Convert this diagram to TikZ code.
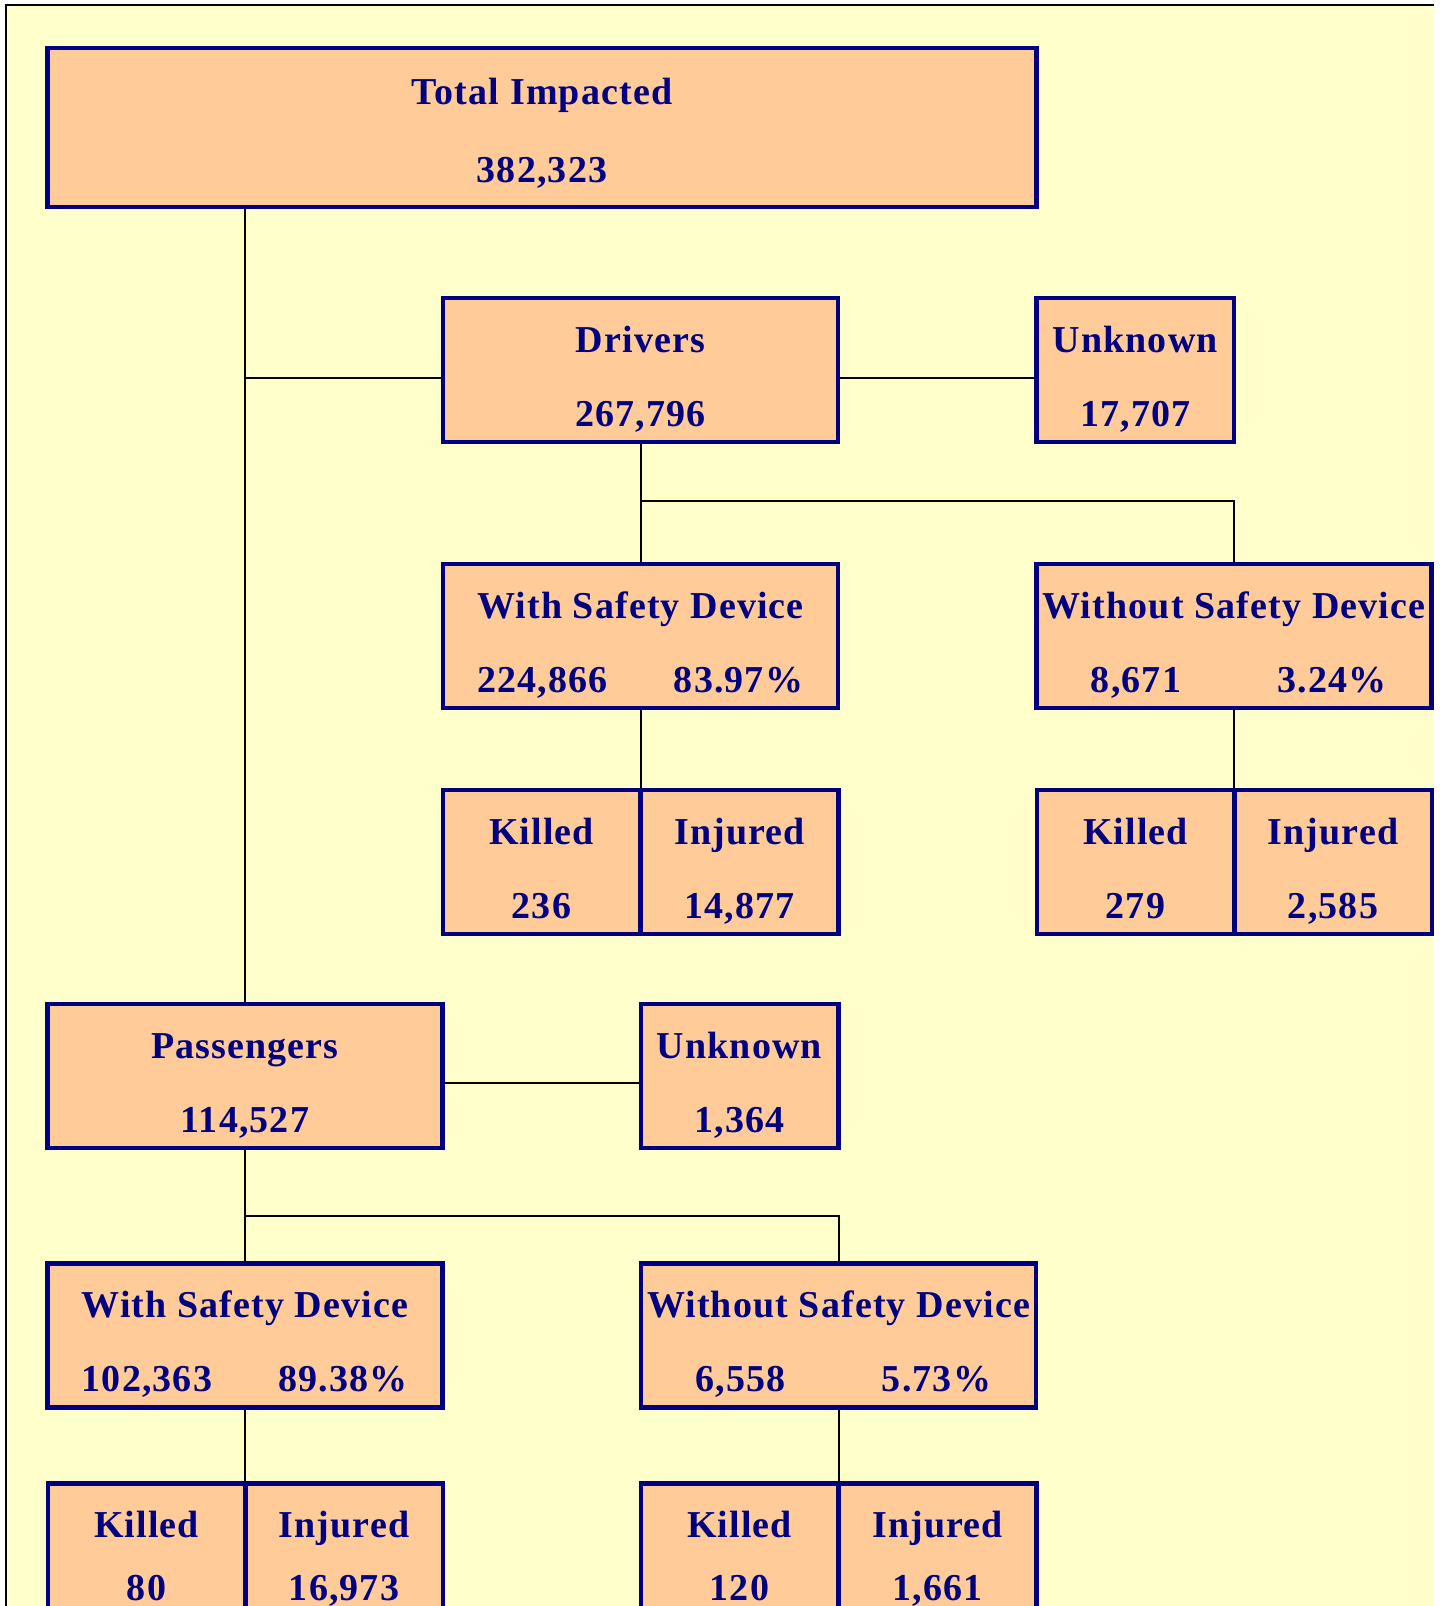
\documentclass[tikz,border=0pt]{standalone}
\usepackage{fontspec}
\setmainfont{Liberation Serif}[LetterSpace=3]
\usetikzlibrary{positioning}
\definecolor{navyc}{HTML}{000080}
\definecolor{peach}{HTML}{FFCC99}
\definecolor{paper}{HTML}{FFFFCC}
\newcommand{\twolines}[3][0pt]{\rule{0pt}{23pt}#2\\[#1]\rule[\dimexpr-4pt+#1\relax]{0pt}{1pt}#3}
\newcommand{\halfcell}[1]{\makebox[98pt]{#1}}

\begin{document}
\begin{tikzpicture}[x=0.5pt, y=-0.5pt,
    box/.style={draw=navyc, fill=peach, line width=2.25pt, inner sep=0pt,
      align=center, text=navyc, font=\fontsize{19pt}{37pt}\selectfont\bfseries,
      minimum height=72pt},
    smallbox/.style={box, minimum width=98.75pt},
    widebox/.style={box, minimum width=197.5pt},
    link/.style={draw, line width=1pt}
  ]

  % le fond
  \useasboundingbox (0,0) rectangle (1440,1606);
  \clip (0,0) rectangle (1440,1606);
  \fill[paper] (6,5) rectangle (1434,1640);
  \draw[line width=1.25pt] (6,1640) -- (6,5) -- (1434,5);

  % les boites
  \node[box, minimum width=494.5pt, minimum height=79.5pt] (total) at (542,127.5)
    {\rule{0pt}{23pt}Total Impacted\\[2pt]\rule[-7.5pt]{0pt}{1pt}382,323};

  \node[widebox] (drv) at (640.5,370) {\twolines{Drivers}{267,796}};
  \node[smallbox] (unkd) at (1135.25,370) {\twolines{Unknown}{17,707}};
  \node[widebox] (wsd) at (640.5,636) {\twolines{With Safety Device}{\halfcell{224,866}\halfcell{83.97\%}}};
  \node[widebox] (wosd) at (1234,636) {\twolines{Without Safety Device}{\halfcell{8,671}\halfcell{3.24\%}}};
  \node[smallbox] (wsdk) at (541.5,862) {\twolines{Killed}{236}};
  \node[smallbox] (wsdi) at (739.5,862) {\twolines{Injured}{14,877}};
  \node[smallbox] (wosdk) at (1135.5,862) {\twolines{Killed}{279}};
  \node[smallbox] (wosdi) at (1333,862) {\twolines{Injured}{2,585}};

  \node[widebox] (pas) at (245,1076) {\twolines{Passengers}{114,527}};
  \node[smallbox] (unkp) at (739.5,1076) {\twolines{Unknown}{1,364}};
  \node[widebox] (pwsd) at (245,1335.5) {\twolines{With Safety Device}{\halfcell{102,363}\halfcell{89.38\%}}};
  \node[widebox] (pwosd) at (838.5,1335.5) {\twolines{Without Safety Device}{\halfcell{6,558}\halfcell{5.73\%}}};
  \node[smallbox] (pwsdk) at (146.5,1555.5) {\twolines[-5.5pt]{Killed}{80}};
  \node[smallbox] (pwsdi) at (344,1555.5) {\twolines[-5.5pt]{Injured}{16,973}};
  \node[smallbox] (pwosdk) at (739.5,1555.5) {\twolines[-5.5pt]{Killed}{120}};
  \node[smallbox] (pwosdi) at (937.5,1555.5) {\twolines[-5.5pt]{Injured}{1,661}};

  % les liens
  \coordinate (drvin) at ([yshift=-4pt]drv.west);
  \coordinate (dsplit) at ([yshift=-28.5pt]drv.south);
  \coordinate (pasout) at ([yshift=-3.5pt]pas.east);
  \coordinate (psplit) at ([yshift=-33pt]pas.south);

  \path[link] (pas.north |- total.south) -- (pas.north);
  \path[link] (drvin -| pas.north) -- (drvin);
  \path[link] ([yshift=-4pt]drv.east) -- ([yshift=-4pt]unkd.west);
  \path[link] (drv.south) -- (wsd.north);
  \path[link] (dsplit) -| (wosd.north);
  \path[link] (wsd.south) -- (wsd.south |- wsdk.north);
  \path[link] (wosd.south) -- (wosd.south |- wosdk.north);

  \path[link] (pasout) -- (pasout -| unkp.west);
  \path[link] (pas.south) -- (pwsd.north);
  \path[link] (psplit) -| (pwosd.north);
  \path[link] (pwsd.south) -- (pwsd.south |- pwsdk.north);
  \path[link] (pwosd.south) -- (pwosd.south |- pwosdk.north);
\end{tikzpicture}
\end{document}
